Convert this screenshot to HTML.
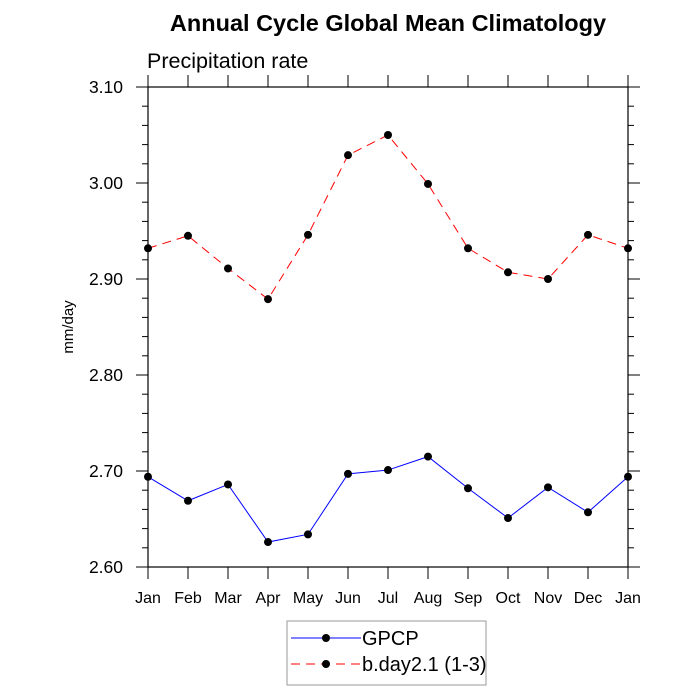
<!DOCTYPE html>
<html><head><meta charset="utf-8"><style>body{margin:0;background:#fff}svg{display:block;font-family:"Liberation Sans",Arial,sans-serif}</style></head>
<body>
<svg id="chart" width="700" height="700" xmlns="http://www.w3.org/2000/svg">
<text x="388" y="31" font-size="23.5" font-weight="bold" text-anchor="middle">Annual Cycle Global Mean Climatology</text>
<text x="147" y="68" font-size="21.5">Precipitation rate</text>
<text transform="translate(73,327) rotate(-90)" font-size="15" text-anchor="middle">mm/day</text>
<rect x="148" y="87" width="480" height="480" fill="none" stroke="#000" stroke-width="1.2"/>
<g id="axes"></g>
<g id="series"></g>
<g>
<rect x="287" y="621" width="199" height="64" fill="none" stroke="#999" stroke-width="1"/>
<line x1="291" y1="638" x2="361" y2="638" stroke="#00f" stroke-width="1"/>
<circle cx="326" cy="638" r="4" fill="#000"/>
<text x="362" y="645" font-size="20">GPCP</text>
<line x1="291" y1="664" x2="361" y2="664" stroke="#f00" stroke-width="1" stroke-dasharray="9,6"/>
<circle cx="326" cy="664" r="4" fill="#000"/>
<text x="362" y="671" font-size="20">b.day2.1 (1-3)</text>
</g>
</svg>
<script>
const months = ["Jan","Feb","Mar","Apr","May","Jun","Jul","Aug","Sep","Oct","Nov","Dec","Jan"];
const gpcp = [2.694,2.669,2.686,2.626,2.634,2.697,2.701,2.715,2.682,2.651,2.683,2.657,2.694];
const model = [2.932,2.945,2.911,2.879,2.946,3.029,3.050,2.999,2.932,2.907,2.900,2.946,2.932];
const yTicks = ["2.60","2.70","2.80","2.90","3.00","3.10"];
const NS="http://www.w3.org/2000/svg";
const X0=148,X1=628,Y0=567,Y1=87,YMIN=2.6,YMAX=3.1;
const xs=i=>X0+(X1-X0)*i/(months.length-1);
const ys=v=>Y0-(v-YMIN)/(YMAX-YMIN)*(Y0-Y1);
function mk(t,a,p){const e=document.createElementNS(NS,t);for(const k in a)e.setAttribute(k,a[k]);p.appendChild(e);return e;}
const ax=document.getElementById('axes');
months.forEach((m,i)=>{const x=xs(i);
 const t=mk('line',{x1:x,y1:Y0,x2:x,y2:Y0+12,stroke:'#000'},ax);
 
 
 mk('line',{x1:x,y1:Y1,x2:x,y2:Y1-12,stroke:'#000'},ax);
 const l=mk('text',{x:x,y:603,'font-size':16,'text-anchor':'middle'},ax);l.textContent=m;
 
 
});
for(let k=0;k<=25;k++){const v=YMIN+k*0.02,y=ys(v),maj=k%5===0,len=maj?12:6;
 mk('line',{x1:X0-len,y1:y,x2:X0,y2:y,stroke:'#000'},ax);
 mk('line',{x1:X1,y1:y,x2:X1+len,y2:y,stroke:'#000'},ax);}
yTicks.forEach(s=>{const l=mk('text',{x:123,y:ys(parseFloat(s))+6,'font-size':17.5,'text-anchor':'end'},ax);l.textContent=s;
 
 });
const sg=document.getElementById('series');
function draw(vals,color,dash,name){
 const p=mk('polyline',{points:vals.map((v,i)=>xs(i)+','+ys(v)).join(' '),fill:'none',stroke:color,'stroke-width':1,'stroke-dasharray':dash},sg);
 
 
 vals.forEach((v,i)=>{const c=mk('circle',{cx:xs(i),cy:ys(v),r:4,fill:'#000'},sg);
 
 });
}
draw(gpcp,'#00f','none','gpcp');
draw(model,'#f00','9,6','model');
</script>
</body></html>
